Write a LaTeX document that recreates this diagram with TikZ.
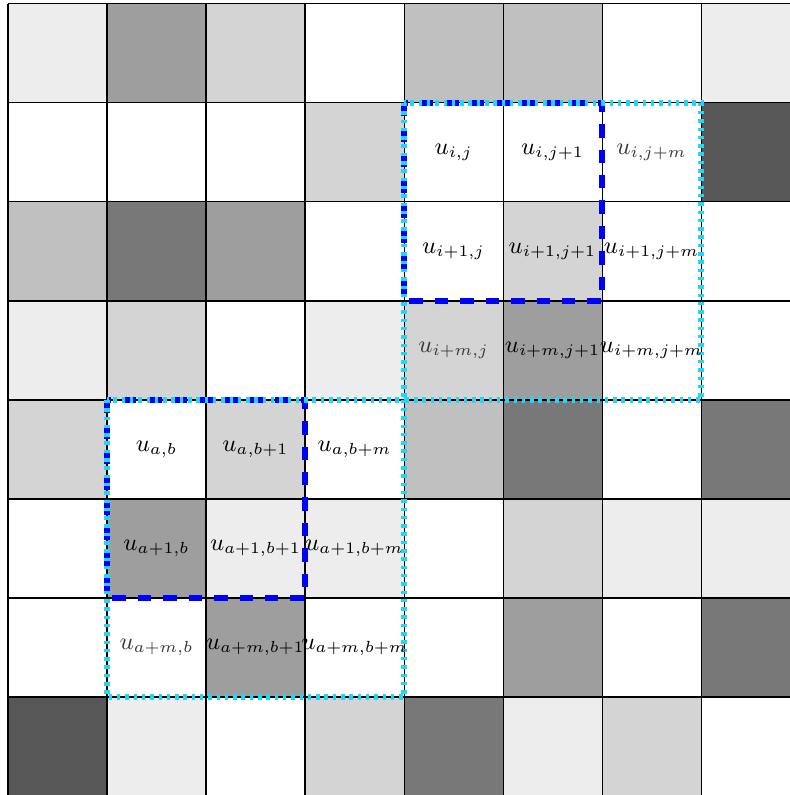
\documentclass[tikz,border=0pt]{standalone}
\definecolor{g0}{HTML}{FFFFFF}
\definecolor{g1}{HTML}{EDEDED}
\definecolor{g2}{HTML}{D4D4D4}
\definecolor{g3}{HTML}{C0C0C0}
\definecolor{g4}{HTML}{9E9E9E}
\definecolor{g5}{HTML}{787878}
\definecolor{g6}{HTML}{575757}
\definecolor{cyanline}{RGB}{30,215,250}
\definecolor{graytext}{HTML}{3A3A3A}
\begin{document}
\begin{tikzpicture}[x=1.3cm,y=1.3cm,
  gridline/.style={draw=black,line width=0.4pt},
  bluebox/.style={draw=blue,line width=2.1pt,dash pattern=on 5pt off 4.5pt},
  cyanbox/.style={draw=cyanline,line width=2.2pt,dash pattern=on 1.3pt off 1.8pt},
  lbl/.style={inner sep=0pt,font=\small},
  lblgray/.style={lbl,text=graytext}]
\useasboundingbox (-0.081,0.010) rectangle (7.889,8.040);
\foreach \row [count=\r from 0] in {{1,4,2,0,3,3,0,1},{0,0,0,2,0,0,0,6},{3,5,4,0,0,2,0,0},{1,2,0,1,2,4,0,0},{2,0,2,0,3,5,0,5},{0,4,1,1,0,2,1,1},{0,0,4,0,0,4,0,5},{6,1,0,2,5,1,2,0}} {
  \foreach \v [count=\c from 0] in \row {
    \fill[g\v] (\c,7-\r) rectangle ++(1,1);
  }
}
\foreach \k in {0,...,8} {
  \draw[gridline] (\k,0) -- (\k,8);
  \draw[gridline] (0,\k) -- (8,\k);
}
\draw[bluebox] (4,7) rectangle (6,5);
\draw[bluebox] (1,4) rectangle (3,2);
\draw[cyanbox] (4,7) rectangle (7,4);
\draw[cyanbox] (1,4) rectangle (4,1);
% i-block
\node[lbl] (uij) at (4.5,6.5) {$u_{i,j}$};
\node[lbl] (uij1) at (5.5,6.5) {$u_{i,j+1}$};
\node[lblgray] (uijm) at (6.5,6.5) {$u_{i,j+m}$};
\node[lbl] (ui1j) at (4.5,5.5) {$u_{i+1,j}$};
\node[lbl] (ui1j1) at (5.5,5.5) {$u_{i+1,j+1}$};
\node[lbl] (ui1jm) at (6.5,5.5) {$u_{i+1,j+m}$};
\node[lblgray] (uimj) at (4.5,4.5) {$u_{i+m,j}$};
\node[lbl] (uimj1) at (5.5,4.5) {$u_{i+m,j+1}$};
\node[lbl] (uimjm) at (6.5,4.5) {$u_{i+m,j+m}$};
% a-block
\node[lbl] (uab) at (1.5,3.5) {$u_{a,b}$};
\node[lbl] (uab1) at (2.5,3.5) {$u_{a,b+1}$};
\node[lbl] (uabm) at (3.5,3.5) {$u_{a,b+m}$};
\node[lbl] (ua1b) at (1.5,2.5) {$u_{a+1,b}$};
\node[lbl] (ua1b1) at (2.5,2.5) {$u_{a+1,b+1}$};
\node[lbl] (ua1bm) at (3.5,2.5) {$u_{a+1,b+m}$};
\node[lblgray] (uamb) at (1.5,1.5) {$u_{a+m,b}$};
\node[lbl] (uamb1) at (2.5,1.5) {$u_{a+m,b+1}$};
\node[lbl] (uambm) at (3.5,1.5) {$u_{a+m,b+m}$};
\end{tikzpicture}
\end{document}
